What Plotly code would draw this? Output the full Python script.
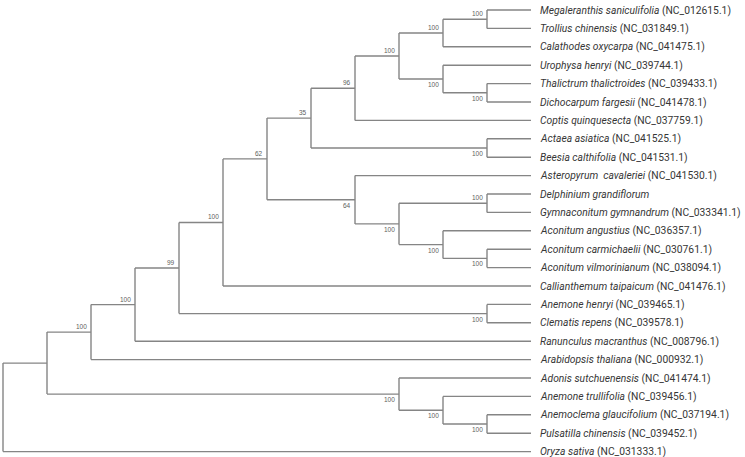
import plotly.graph_objects as go

# ---- data ----
species = [
    "Megaleranthis saniculifolia", "Trollius chinensis", "Calathodes oxycarpa",
    "Urophysa henryi", "Thalictrum thalictroides", "Dichocarpum fargesii",
    "Coptis quinquesecta", "Actaea asiatica", "Beesia calthifolia",
    "Asteropyrum  cavaleriei", "Delphinium grandiflorum", "Gymnaconitum gymnandrum",
    "Aconitum angustius", "Aconitum carmichaelii", "Aconitum vilmorinianum",
    "Callianthemum taipaicum", "Anemone henryi", "Clematis repens",
    "Ranunculus macranthus", "Arabidopsis thaliana", "Adonis sutchuenensis",
    "Anemone trullifolia", "Anemoclema glaucifolium", "Pulsatilla chinensis",
    "Oryza sativa",
]
accessions = [
    "NC_012615.1", "NC_031849.1", "NC_041475.1", "NC_039744.1", "NC_039433.1",
    "NC_041478.1", "NC_037759.1", "NC_041525.1", "NC_041531.1", "NC_041530.1",
    "", "NC_033341.1", "NC_036357.1", "NC_030761.1", "NC_038094.1",
    "NC_041476.1", "NC_039465.1", "NC_039578.1", "NC_008796.1", "NC_000932.1",
    "NC_041474.1", "NC_039456.1", "NC_037194.1", "NC_039452.1", "NC_031333.1",
]
# tree topology (leaf indices) with bootstrap support values
newick = ("((((((((((((0,1)100,2)100,(3,(4,5)100)100)100,6)96,(7,8)100)35,"
          "(9,((10,11)100,(12,(13,14)100)100)100)64)62,15)100,(16,17)100)99,"
          "18)100,19)100,(20,(21,(22,23)100)100)100),24);")


def parse(s):
    pos = 0

    def node():
        nonlocal pos
        if s[pos] == "(":
            pos += 1
            kids = [node()]
            while s[pos] == ",":
                pos += 1
                kids.append(node())
            pos += 1  # ')'
            start = pos
            while pos < len(s) and s[pos] not in ",);":
                pos += 1
            sup = s[start:pos]
            return {"kids": kids, "sup": sup}
        start = pos
        while s[pos] not in ",);":
            pos += 1
        return {"leaf": int(s[start:pos])}

    return node()


root = parse(newick)


def height(n):
    if "leaf" in n:
        n["h"] = 0
    else:
        n["h"] = 1 + max(height(k) for k in n["kids"])
    return n["h"]


H = height(root)


def layout(n):
    n["x"] = H - n["h"]
    if "leaf" in n:
        n["y"] = n["leaf"]
    else:
        for k in n["kids"]:
            layout(k)
        n["y"] = (n["kids"][0]["y"] + n["kids"][-1]["y"]) / 2


layout(root)

xs, ys = [], []
annots = []


def draw(n):
    if "leaf" in n:
        return
    ys_k = [k["y"] for k in n["kids"]]
    xs.extend([n["x"], n["x"], None])
    ys.extend([min(ys_k), max(ys_k), None])
    for i, k in enumerate(n["kids"]):
        xs.extend([n["x"], k["x"], None])
        ys.extend([k["y"], k["y"], None])
        if "kids" in k and k["sup"]:
            upper = (i == 0)
            annots.append(dict(
                x=k["x"], y=k["y"], text=k["sup"], showarrow=False,
                xanchor="right", yanchor="bottom" if upper else "top",
                xshift=-3, yshift=1 if upper else -1,
                font=dict(family="Liberation Sans, Arial", size=6.5, color="#606060"),
                borderpad=0,
            ))
        draw(k)


draw(root)

fig = go.Figure()
fig.add_trace(go.Scatter(x=xs, y=ys, mode="lines",
                         line=dict(color="#858585", width=1.4),
                         hoverinfo="skip", showlegend=False))

for i, (sp, acc) in enumerate(zip(species, accessions)):
    txt = f"<i>{sp}</i>" + (f" ({acc})" if acc else "")
    annots.append(dict(
        x=H, y=i, text=txt, showarrow=False, xanchor="left", yanchor="middle",
        xshift=8, borderpad=0,
        font=dict(family="Roboto", size=10.3, color="#363636"),
    ))

px_per_x = 44.0
px_per_y = 18.4
x0 = -3 / px_per_x
y0 = -10 / px_per_y
fig.update_layout(
    width=745, height=457,
    margin=dict(l=0, r=0, t=0, b=0),
    paper_bgcolor="white", plot_bgcolor="white",
    xaxis=dict(range=[x0, x0 + 745 / px_per_x], visible=False, fixedrange=True),
    yaxis=dict(range=[y0 + 457 / px_per_y, y0], visible=False, fixedrange=True),
    annotations=annots,
)
fig.write_html("out.html",
               config={"displayModeBar": False, "staticPlot": True},
               post_script="document.body.style.margin='0';document.body.style.padding='0';")
